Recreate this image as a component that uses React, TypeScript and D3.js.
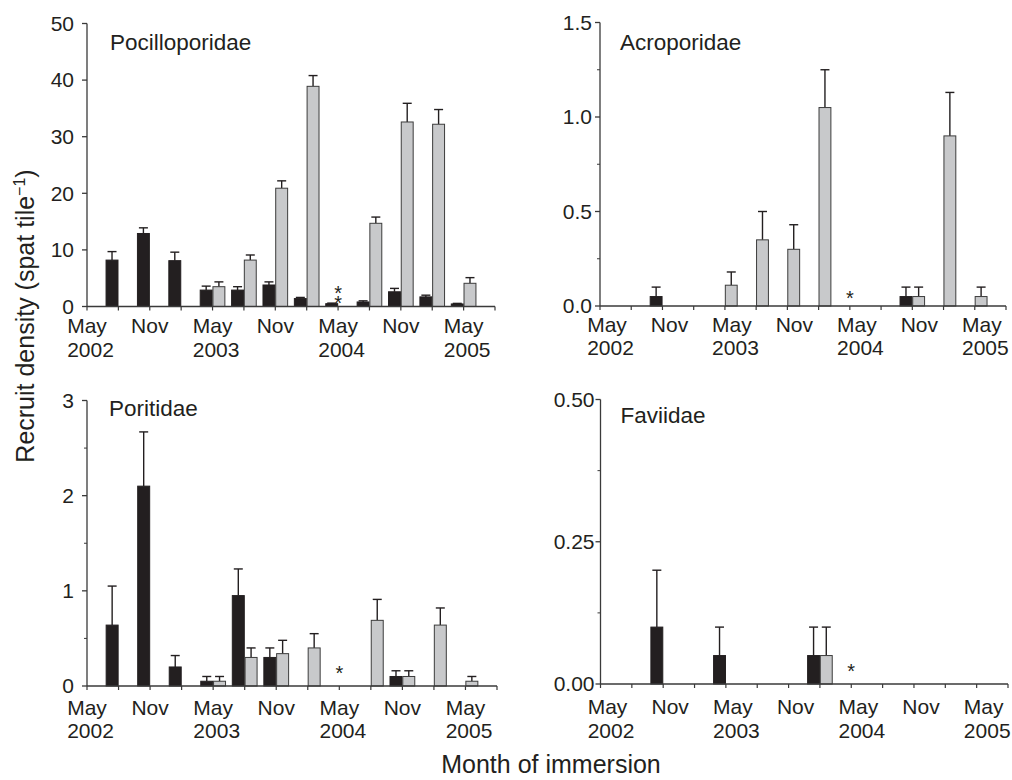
import * as React from 'react';
import * as d3 from 'd3';

// sampling points, one per quarter (May 2002 .. Aug 2005)
const periods = [
	'May 2002', 'Aug 2002', 'Nov 2002', 'Feb 2003', 'May 2003', 'Aug 2003', 'Nov 2003',
	'Feb 2004', 'May 2004', 'Aug 2004', 'Nov 2004', 'Feb 2005', 'May 2005', 'Aug 2005',
];
const monthLabels = ['May', '', 'Nov', '', 'May', '', 'Nov', '', 'May', '', 'Nov', '', 'May', ''];
const yearLabels = ['2002', '', '', '', '2003', '', '', '', '2004', '', '', '', '2005', ''];

const families = ['Pocilloporidae', 'Acroporidae', 'Poritidae', 'Faviidae'];

// dark bars / light bars: mean and upper SE, null = not sampled
const pociDark = [null, 8.2, 12.9, 8.1, 2.9, 2.9, 3.8, 1.4, 0.5, 0.8, 2.6, 1.7, 0.45, null];
const pociDarkSE = [null, 1.5, 1.0, 1.5, 0.7, 0.6, 0.55, 0.2, 0.1, 0.2, 0.6, 0.3, 0.1, null];
const pociLight = [null, null, null, null, 3.5, 8.2, 20.9, 38.9, null, 14.7, 32.6, 32.2, 4.1, null];
const pociLightSE = [null, null, null, null, 0.85, 0.9, 1.3, 1.9, null, 1.1, 3.3, 2.6, 1.0, null];

const acroDark = [null, 0, 0.05, 0, 0, 0, 0, 0, 0, 0, 0.05, 0, 0, null];
const acroDarkSE = [null, 0, 0.05, 0, 0, 0, 0, 0, 0, 0, 0.05, 0, 0, null];
const acroLight = [null, null, null, null, 0.11, 0.35, 0.3, 1.05, null, 0, 0.05, 0.9, 0.05, null];
const acroLightSE = [null, null, null, null, 0.07, 0.15, 0.13, 0.2, null, 0, 0.05, 0.23, 0.05, null];

const poriDark = [null, 0.64, 2.1, 0.2, 0.05, 0.95, 0.3, 0, 0, 0, 0.1, 0, 0, null];
const poriDarkSE = [null, 0.41, 0.57, 0.12, 0.05, 0.28, 0.1, 0, 0, 0, 0.06, 0, 0, null];
const poriLight = [null, null, null, null, 0.05, 0.3, 0.34, 0.4, null, 0.69, 0.1, 0.64, 0.05, null];
const poriLightSE = [null, null, null, null, 0.05, 0.1, 0.14, 0.15, null, 0.22, 0.06, 0.18, 0.05, null];

const faviDark = [null, 0, 0.1, 0, 0.05, 0, 0, 0.05, 0, 0, 0, 0, 0, null];
const faviDarkSE = [null, 0, 0.1, 0, 0.05, 0, 0, 0.05, 0, 0, 0, 0, 0, null];
const faviLight = [null, null, null, null, 0, 0, 0, 0.05, null, 0, 0, 0, 0, null];
const faviLightSE = [null, null, null, null, 0, 0, 0, 0.05, null, 0, 0, 0, 0, null];

// asterisks at May 2004 (period index, number of stars)
const starIndex = [8, 8, 8, 8];
const starCount = [2, 1, 1, 1];

const yMax = [50, 1.5, 3, 0.5];
const yMajor = [10, 0.5, 1, 0.25];
const yMinor = [null, 0.25, 0.5, 0.125];
const yFormat = ['d', '.1f', 'd', '.2f'];

const series = [
	[pociDark, pociDarkSE, pociLight, pociLightSE],
	[acroDark, acroDarkSE, acroLight, acroLightSE],
	[poriDark, poriDarkSE, poriLight, poriLightSE],
	[faviDark, faviDarkSE, faviLight, faviLightSE],
];

const layout = [
	{ x0: 87, x1: 495, top: 23.5, bottom: 306.5, titleDx: 23, titleY: 50, gap: 13, shift: 0, dy1: 26, dy2: 50, star: 18 },
	{ x0: 600, x1: 1006, top: 22.5, bottom: 306, titleDx: 20, titleY: 50, gap: 8, shift: 7, dy1: 26, dy2: 49, star: 13 },
	{ x0: 87, x1: 497, top: 400.5, bottom: 686, titleDx: 22, titleY: 416, gap: 13, shift: 0, dy1: 29, dy2: 52, star: 18 },
	{ x0: 600.5, x1: 1008, top: 399.5, bottom: 684, titleDx: 20, titleY: 422.5, gap: 6, shift: 7, dy1: 30, dy2: 54, star: 18 },
];

const ink = '#231f20';
const axisColor = '#3a3a3a';
const darkFill = '#231f20';
const lightFill = '#c8c9cb';
const font = '"Liberation Sans", Arial, Helvetica, sans-serif';

const Bars = ({ values, errors, x, y, dark, bw }) => (
	<g>
		{values.map((v, i) => {
			if (v == null || v <= 0) return null;
			const cx = x(i);
			const left = dark ? cx - bw - 0.4 : cx + 0.4;
			const mid = left + bw / 2;
			const top = y(v + (errors[i] || 0));
			return (
				<g key={i}>
					<line x1={mid} x2={mid} y1={y(v)} y2={top} stroke={ink} strokeWidth={1.4} />
					<line x1={mid - 4.5} x2={mid + 4.5} y1={top} y2={top} stroke={ink} strokeWidth={1.4} />
					<rect
						x={left}
						y={y(v)}
						width={bw}
						height={y(0) - y(v)}
						fill={dark ? darkFill : lightFill}
						stroke={dark ? ink : '#3c3c3c'}
						strokeWidth={1}
					/>
				</g>
			);
		})}
	</g>
);

const Panel = ({ k }) => {
	const L = layout[k];
	const [dv, de, lv, le] = series[k];
	const x = d3.scaleLinear().domain([0, periods.length - 1]).range([L.x0, L.x1]);
	const y = d3.scaleLinear().domain([0, yMax[k]]).range([L.bottom, L.top]);
	const bw = ((L.x1 - L.x0) / (periods.length - 1)) * 0.38;
	const fmt = d3.format(yFormat[k]);
	const majors = d3.range(0, yMax[k] + 1e-9, yMajor[k]);
	const minors = yMinor[k] ? d3.range(yMinor[k], yMax[k], yMajor[k]) : [];

	return (
		<g>
			<text x={L.x0 + L.titleDx} y={L.titleY} fontSize={22.5} fill={ink}>
				{families[k]}
			</text>
			<Bars values={dv} errors={de} x={x} y={y} dark bw={bw} />
			<Bars values={lv} errors={le} x={x} y={y} dark={false} bw={bw} />
			{d3.range(starCount[k]).map(s => (
				<text
					key={s}
					x={x(starIndex[k])}
					y={L.bottom - L.star + s * 10 + 11.5}
					fontSize={20}
					textAnchor='middle'
					fill={ink}
				>
					*
				</text>
			))}
			{/* y axis */}
			<line x1={L.x0} x2={L.x0} y1={y(yMax[k])} y2={y(0)} stroke={axisColor} strokeWidth={1.3} />
			{majors.map(t => (
				<g key={t}>
					<line x1={L.x0 - 5} x2={L.x0} y1={y(t)} y2={y(t)} stroke={axisColor} strokeWidth={1.3} />
					<text x={L.x0 - L.gap} y={y(t)} dy='0.35em' textAnchor='end' fontSize={21} fill={ink}>
						{fmt(t)}
					</text>
				</g>
			))}
			{minors.map(t => (
				<line key={t} x1={L.x0 - 3} x2={L.x0} y1={y(t)} y2={y(t)} stroke={axisColor} strokeWidth={1} />
			))}
			{/* x axis */}
			<line x1={L.x0} x2={L.x1} y1={y(0)} y2={y(0)} stroke={axisColor} strokeWidth={1.3} />
			{periods.map((p, i) => (
				<g key={p}>
					<line x1={x(i)} x2={x(i)} y1={y(0)} y2={y(0) + 4} stroke={axisColor} strokeWidth={1.2} />
					{monthLabels[i] === 'Nov' ? (
						<text x={x(i) + L.shift} y={y(0) + L.dy1} textAnchor='middle' fontSize={21} fill={ink}>
							Nov
						</text>
					) : monthLabels[i] ? (
						<text x={x(i) + L.shift - 19.8} y={y(0) + L.dy1} fontSize={21} fill={ink}>
							<tspan>{monthLabels[i]}</tspan>
							<tspan x={x(i) + L.shift - 19.8} y={y(0) + L.dy2}>
								{yearLabels[i]}
							</tspan>
						</text>
					) : null}
				</g>
			))}
		</g>
	);
};

export default function App() {
	return (
		<svg
			width={1012}
			height={780}
			viewBox='0 0 1012 780'
			style={{ position: 'absolute', left: 0, top: 0, background: '#fff' }}
			fontFamily={font}
		>
			<rect width={1012} height={780} fill='#fff' />
			{families.map((f, k) => (
				<Panel key={f} k={k} />
			))}
			<text transform='translate(34 316) rotate(-90)' textAnchor='middle' fontSize={25} fill={ink}>
				Recruit density (spat tile
				<tspan fontSize={16} dy={-9}>
					−1
				</tspan>
				<tspan dy={9}>)</tspan>
			</text>
			<text x={551} y={773} textAnchor='middle' fontSize={25} fill={ink}>
				Month of immersion
			</text>
		</svg>
	);
}
